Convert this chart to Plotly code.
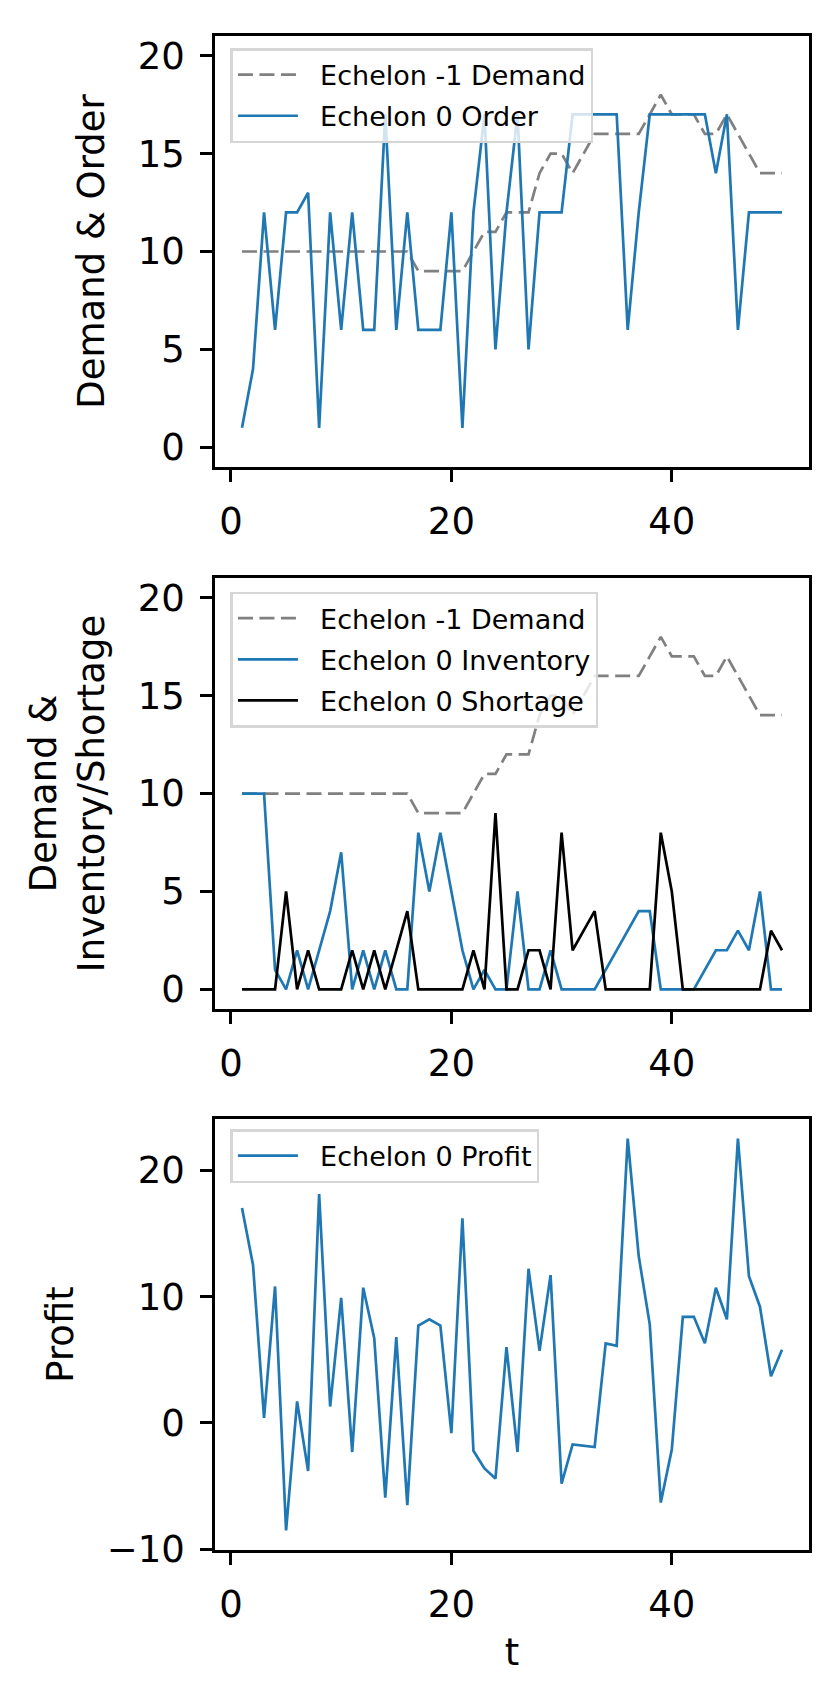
import plotly.graph_objects as go
from plotly.subplots import make_subplots

# Time steps and series
t = list(range(1, 51))

demand = [10, 10, 10, 10, 10, 10, 10, 10, 10, 10, 10, 10, 10, 10, 10, 10,
          9, 9, 9, 9, 9, 10, 11, 11, 12, 12, 12, 14, 15, 15,
          14, 15, 16, 16, 16, 16, 16, 17, 18, 17, 17, 17, 16, 16, 17,
          16, 15, 14, 14, 14]

order = [1, 4, 12, 6, 12, 12, 13, 1, 12, 6,
         12, 6, 6, 17, 6, 12, 6, 6, 6, 12,
         1, 12, 17, 5, 12, 17, 5, 12, 12, 12,
         17, 17, 17, 17, 17, 6, 12, 17, 17, 17,
         17, 17, 17, 14, 17, 6, 12, 12, 12, 12]

inventory = [10, 10, 10, 1, 0, 2, 0, 2, 4, 7,
             0, 2, 0, 2, 0, 0, 8, 5, 8, 5,
             2, 0, 1, 0, 0, 5, 0, 0, 2, 0,
             0, 0, 0, 1, 2, 3, 4, 4, 0, 0,
             0, 0, 1, 2, 2, 3, 2, 5, 0, 0]

shortage = [0, 0, 0, 0, 5, 0, 2, 0, 0, 0,
            2, 0, 2, 0, 2, 4, 0, 0, 0, 0,
            0, 2, 0, 9, 0, 0, 2, 2, 0, 8,
            2, 3, 4, 0, 0, 0, 0, 0, 8, 5,
            0, 0, 0, 0, 0, 0, 0, 0, 3, 2]

profit = [17.0, 12.5, 0.4, 10.8, -8.5, 1.7, -3.8, 18.1, 1.3, 9.9,
          -2.3, 10.7, 6.7, -5.9, 6.8, -6.5, 7.7, 8.2, 7.7, -0.8,
          16.2, -2.2, -3.6, -4.4, 6.0, -2.3, 12.2, 5.7, 11.7, -4.8,
          -1.7, -1.8, -1.9, 6.3, 6.1, 22.5, 13.2, 7.8, -6.3, -2.1,
          8.4, 8.4, 6.3, 10.7, 8.2, 22.5, 11.6, 9.2, 3.7, 5.8]

BLUE = "#1f77b4"
GRAY = "#808080"
FONT = "DejaVu Sans"
LW = 2.7
DASH = "15px,6.5px"
PAD = "\u00a0\u00a0"  # a little room between the legend line and its text

fig = make_subplots(rows=3, cols=1)

# panel 1: demand & order
fig.add_trace(go.Scatter(x=t, y=demand, mode="lines", name=PAD + "Echelon -1 Demand",
                         line=dict(color=GRAY, width=LW, dash=DASH),
                         legend="legend", legendgroup="a"), row=1, col=1)
fig.add_trace(go.Scatter(x=t, y=order, mode="lines", name=PAD + "Echelon 0 Order",
                         line=dict(color=BLUE, width=LW),
                         legend="legend", legendgroup="b"), row=1, col=1)

# panel 2: demand & inventory/shortage
fig.add_trace(go.Scatter(x=t, y=demand, mode="lines", name=PAD + "Echelon -1 Demand",
                         line=dict(color=GRAY, width=LW, dash=DASH),
                         legend="legend2", legendgroup="c"), row=2, col=1)
fig.add_trace(go.Scatter(x=t, y=inventory, mode="lines", name=PAD + "Echelon 0 Inventory",
                         line=dict(color=BLUE, width=LW),
                         legend="legend2", legendgroup="d"), row=2, col=1)
fig.add_trace(go.Scatter(x=t, y=shortage, mode="lines", name=PAD + "Echelon 0 Shortage",
                         line=dict(color="black", width=LW),
                         legend="legend2", legendgroup="e"), row=2, col=1)

# panel 3: profit
fig.add_trace(go.Scatter(x=t, y=profit, mode="lines", name=PAD + "Echelon 0 Profit",
                         line=dict(color=BLUE, width=LW),
                         legend="legend3", legendgroup="f"), row=3, col=1)

pmin, pmax = min(profit), max(profit)
pad = 0.05 * (pmax - pmin)

axis_common = dict(showline=True, linecolor="black", linewidth=2.5, mirror=True,
                   ticks="outside", ticklen=12, tickwidth=2.5, tickcolor="black",
                   showgrid=False, zeroline=False, ticklabelstandoff=8,
                   tickfont=dict(family=FONT, size=37, color="black"))

for i in (1, 2, 3):
    fig.update_xaxes(range=[-1.45, 52.45], tick0=0, dtick=20, **axis_common, row=i, col=1)

fig.update_yaxes(range=[-1, 21], dtick=5, **axis_common, row=1, col=1)
fig.update_yaxes(range=[-1, 21], dtick=5, **axis_common, row=2, col=1)
fig.update_yaxes(range=[pmin - pad, pmax + pad], dtick=10, **axis_common, row=3, col=1)

title_font = dict(family=FONT, size=37, color="black")
fig.update_yaxes(title=dict(text="Demand & Order", font=title_font, standoff=22), row=1, col=1)
fig.update_yaxes(title=dict(text="Demand &<br>Inventory/Shortage", font=title_font, standoff=22), row=2, col=1)
fig.update_yaxes(title=dict(text="Profit", font=title_font, standoff=22), row=3, col=1)
fig.update_xaxes(title=dict(text="t", font=title_font, standoff=14), row=3, col=1)

legend_common = dict(xanchor="left", yanchor="top", x=0.026,
                     bgcolor="rgba(255,255,255,0.8)", bordercolor="#d6d6d6", borderwidth=2.5,
                     font=dict(family=FONT, size=27, color="black"), itemwidth=60,
                     tracegroupgap=3)

fig.update_layout(
    width=830, height=1693,
    margin=dict(l=207, r=29, t=28, b=151),
    paper_bgcolor="white", plot_bgcolor="white",
    font=dict(family=FONT, color="black"),
    yaxis=dict(domain=[0.7153, 1.0]),
    yaxis2=dict(domain=[0.3573, 0.642]),
    yaxis3=dict(domain=[0.0, 0.2847]),
    legend=dict(y=0.992, **legend_common),
    legend2=dict(y=0.633, **legend_common),
    legend3=dict(y=0.278, **legend_common),
)

fig.write_html("out.html")
